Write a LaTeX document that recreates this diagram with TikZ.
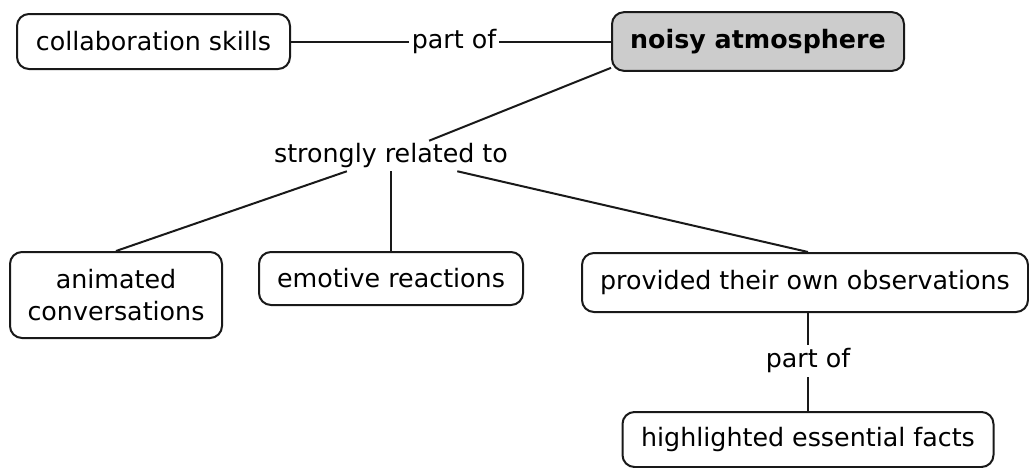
\documentclass[tikz,border=0pt]{standalone}
\usepackage{fontspec}
\setmainfont{DejaVu Sans}
\begin{document}
\begin{tikzpicture}[x=0.75pt,y=-0.75pt,
  concept/.style={draw=black!90, line width=1.5pt, rounded corners=9pt,
    inner sep=0pt, align=center, font=\fontsize{19}{23.5}\selectfont},
  focus/.style={concept, fill=black!20, font=\fontsize{19}{23.5}\selectfont\bfseries},
  linklabel/.style={inner xsep=2pt, inner ysep=0pt, font=\fontsize{19}{23.5}\selectfont},
  link/.style={line width=1.5pt, black!90}]
  \useasboundingbox (0,0) rectangle (1029,468);

  % concepts
  \node[concept, minimum width=204.75pt, minimum height=41.25pt] (collab) at (153.5,41.5) {collaboration skills};
  \node[focus, minimum width=219pt, minimum height=44pt] (noisy) at (758,41.5) {noisy atmosphere};
  \node[concept, minimum width=159pt, minimum height=64.5pt] (anim) at (116,295) {animated\\conversations};
  \node[concept, minimum width=198pt, minimum height=39.75pt] (emot) at (391,278.5) {emotive reactions};
  \node[concept, minimum width=334.5pt, minimum height=44.25pt] (prov) at (805,282.5) {provided their own observations};
  \node[concept, minimum width=278.25pt, minimum height=41.25pt] (high) at (808,439.5) {highlighted essential facts};

  % linking phrases
  \node[linklabel, minimum height=22pt] (partA) at (454,41.5) {part of};
  \node[linklabel, minimum height=22.5pt] (rel) at (391,156) {strongly related to};
  \node[linklabel, minimum height=24pt, inner xsep=6pt] (partB) at (808,361) {part of};

  % connectors
  \draw[link] (collab.east) -- (partA.west);
  \draw[link] (partA.east) -- (noisy.west);
  \draw[link] ([yshift=3pt]noisy.south west) -- (rel);
  \draw[link] (rel) -- (anim.north);
  \draw[link] (rel) -- (emot.north);
  \draw[link] (rel) -- ([xshift=2.25pt]prov.north);
  \draw[link] ([xshift=2.25pt]prov.south) -- (partB.north);
  \draw[link] (partB.south) -- (high.north);
\end{tikzpicture}
\end{document}
